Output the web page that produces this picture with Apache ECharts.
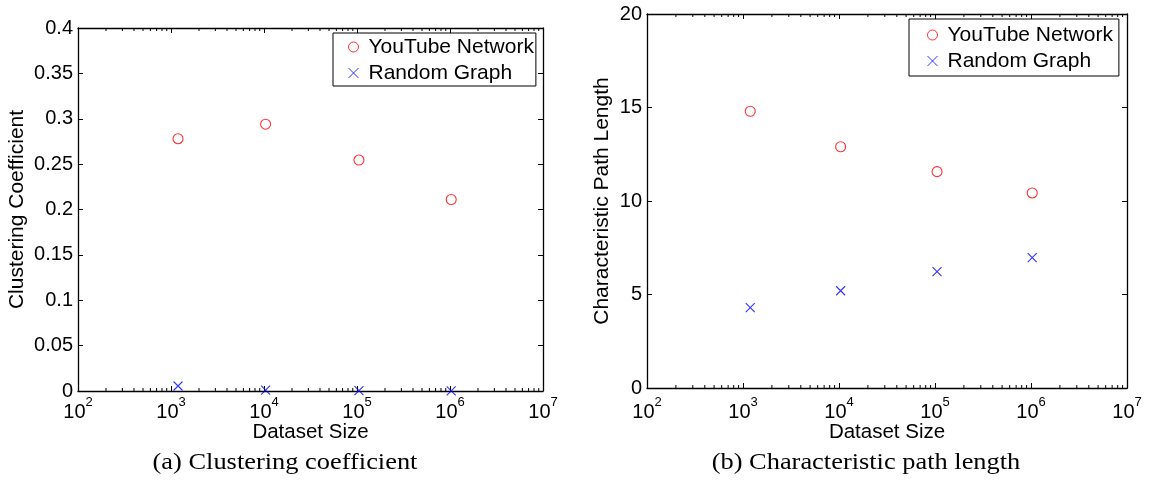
<!DOCTYPE html>
<html><head><meta charset="utf-8">
<script src="https://cdn.jsdelivr.net/npm/echarts@6/dist/echarts.min.js"></script>
<style>html,body{margin:0;padding:0;background:#fff}#c{width:1153px;height:482px}</style>
</head><body><div id="c"></div>
<script>
// ---- data ----
const datasetSizes = [1190, 10400, 105000, 1030000];
const ccYouTube = [0.278, 0.294, 0.2545, 0.211];
const ccRandom = [0.0055, 0.001, 0.0005, 0.0002];
const cplYouTube = [14.8, 12.9, 11.57, 10.43];
const cplRandom = [4.3, 5.2, 6.22, 6.97];
const seriesNames = ['YouTube Network', 'Random Graph'];
const xAxisName = 'Dataset Size';
const yAxisNames = ['Clustering Coefficient', 'Characteristic Path Length'];
const captions = ['(a) Clustering coefficient', '(b) Characteristic path length'];
const xRange = [100, 10000000];
const yRanges = [[0, 0.4, 0.05], [0, 20, 5]];

// ---- layout / style ----
const FONT = 'Liberation Sans, Arial, Helvetica, sans-serif';
const grids = [
  {left: 78, top: 28, width: 465, height: 363},
  {left: 647, top: 14, width: 480, height: 374}
];
const xLabelMargin = [4.5, 7.5];
const xNameGap = [31, 34];
const yNameGap = [50, 34];
const legendPos = [
  {left: 333, top: 33, padding: [3, 2, 2, 15]},
  {left: 909, top: 19, padding: [5, 6, 4, 18]}
];
const captionPos = [[285, 463], [866, 463]];

const chart = echarts.init(document.getElementById('c'), null, {renderer: 'canvas'});
const axisLine = {show: true, onZero: false, lineStyle: {color: '#000', width: 1.3}};
const tick = {show: true, inside: true, length: 5, lineStyle: {color: '#000', width: 1}};

const xAxes = [], yAxes = [], series = [];
const panelData = [[ccYouTube, ccRandom], [cplYouTube, cplRandom]];
for (let p = 0; p < 2; p++) {
  xAxes.push({
    gridIndex: p, type: 'log', logBase: 10, min: xRange[0], max: xRange[1], position: 'bottom',
    axisLine, axisTick: tick, splitLine: {show: false}, minorTick: {show: false},
    axisLabel: {
      margin: xLabelMargin[p], color: '#000',
      formatter: v => '{b|10}{s|' + Math.round(Math.log10(v)) + '}',
      rich: {
        b: {fontFamily: FONT, fontSize: 20, lineHeight: 20, color: '#000', verticalAlign: 'bottom'},
        s: {fontFamily: FONT, fontSize: 13, lineHeight: 27, color: '#000', verticalAlign: 'top'}
      }
    },
    name: xAxisName, nameLocation: 'middle', nameGap: xNameGap[p], nameMoveOverlap: false,
    nameTextStyle: {fontFamily: FONT, fontSize: 20.5, color: '#000'}
  });
  xAxes.push({
    gridIndex: p, type: 'log', logBase: 10, min: xRange[0], max: xRange[1], position: 'top',
    axisLine, axisTick: tick, axisLabel: {show: false}, splitLine: {show: false}
  });
  const yr = yRanges[p];
  yAxes.push({
    gridIndex: p, type: 'value', min: yr[0], max: yr[1], interval: yr[2], position: 'left',
    axisLine, axisTick: tick, splitLine: {show: false},
    axisLabel: {margin: 5, color: '#000', fontFamily: FONT, fontSize: 20},
    name: yAxisNames[p], nameLocation: 'middle', nameRotate: 90, nameGap: yNameGap[p], nameMoveOverlap: false,
    nameTextStyle: {fontFamily: FONT, fontSize: 21, color: '#000'}
  });
  yAxes.push({
    gridIndex: p, type: 'value', min: yr[0], max: yr[1], interval: yr[2], position: 'right',
    axisLine, axisTick: tick, axisLabel: {show: false}, splitLine: {show: false}
  });
  const [yt, rg] = panelData[p];
  series.push({
    name: seriesNames[0], type: 'scatter', xAxisIndex: p * 2, yAxisIndex: p * 2,
    symbol: 'circle', symbolSize: 10,
    itemStyle: {color: 'transparent', borderColor: '#ff0000', borderWidth: 1.1},
    data: datasetSizes.map((x, i) => [x, yt[i]])
  });
  series.push({
    name: seriesNames[1], type: 'scatter', xAxisIndex: p * 2, yAxisIndex: p * 2,
    symbol: 'path://M0,0L10,10M10,0L0,10', symbolSize: 9,
    itemStyle: {color: '#0000ff', borderColor: '#0000ff', borderWidth: 1.1},
    data: datasetSizes.map((x, i) => [x, rg[i]])
  });
}

const legends = legendPos.map(lp => ({
  left: lp.left, top: lp.top, orient: 'vertical', padding: lp.padding,
  itemGap: 4, itemWidth: 10, itemHeight: 10,
  borderColor: '#000', borderWidth: 1, backgroundColor: '#fff',
  data: seriesNames, selectedMode: false,
  itemStyle: {borderWidth: 1},
  textStyle: {fontFamily: FONT, fontSize: 21, color: '#000', lineHeight: 22, padding: [0, 0, 0, 5]}
}));

chart.setOption({
  animation: false,
  backgroundColor: '#fff',
  grid: grids,
  xAxis: xAxes, yAxis: yAxes, series, legend: legends
});

// minor log ticks (positions from the axis scale) and captions
const gEls = [];
for (let p = 0; p < 2; p++) {
  const g = grids[p];
  const lo = Math.round(Math.log10(xRange[0])), hi = Math.round(Math.log10(xRange[1]));
  for (let d = lo; d < hi; d++) {
    for (let k = 2; k <= 9; k++) {
      const x = chart.convertToPixel({xAxisIndex: p * 2}, k * Math.pow(10, d));
      const yb = g.top + g.height, yt = g.top;
      gEls.push({type: 'line', silent: true, shape: {x1: x, y1: yb, x2: x, y2: yb - 3}, style: {stroke: '#000', lineWidth: 1}});
      gEls.push({type: 'line', silent: true, shape: {x1: x, y1: yt, x2: x, y2: yt + 3}, style: {stroke: '#000', lineWidth: 1}});
    }
  }
  gEls.push({
    type: 'text', x: captionPos[p][0], y: captionPos[p][1], scaleX: 1.1, silent: true,
    style: {text: captions[p], fill: '#000', align: 'center', verticalAlign: 'middle',
      font: '24px "Liberation Serif", "DejaVu Serif", serif'}
  });
}
chart.setOption({graphic: gEls});
</script>
</body></html>
